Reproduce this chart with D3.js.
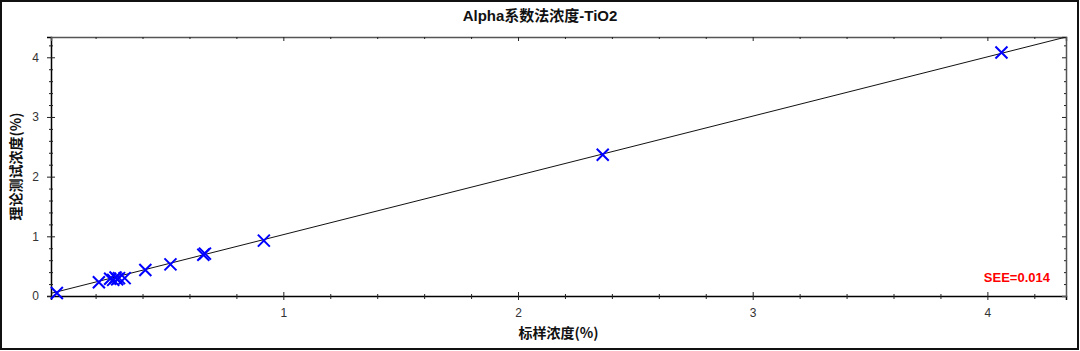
<!DOCTYPE html>
<html>
<head>
<meta charset="utf-8">
<script src="https://cdn.jsdelivr.net/npm/d3@7"></script>
<style>
  body { margin: 0; background: #fff; }
  svg { display: block; }
</style>
</head>
<body>
<div id="chart"></div>
<script>
// data
const stdConc = [0.035, 0.214, 0.262, 0.275, 0.285, 0.292, 0.300, 0.324, 0.412, 0.519, 0.659, 0.666, 0.917, 2.361, 4.06];
const calcConc = [0.05, 0.23, 0.29, 0.27, 0.31, 0.28, 0.30, 0.30, 0.436, 0.53, 0.69, 0.71, 0.928, 2.366, 4.08];
const majorTicks = [1, 2, 3, 4];
const fitLine = { slope: 0.993, intercept: 0.035 };
const chartTitle = "Alpha系数法浓度-TiO2";
const xTitle = "标样浓度(%)";
const yTitle = "理论测试浓度(%)";
const seeText = "SEE=0.014";

const W = 1080, H = 351;
const margin = { top: 37, right: 14, bottom: 55, left: 51 };
const width = W - margin.left - margin.right;
const height = H - margin.top - margin.bottom;

const svg = d3.select("#chart")
  .append("svg")
  .attr("width", W)
  .attr("height", H);

// outer frame
svg.append("rect")
  .attr("x", 1).attr("y", 1)
  .attr("width", W - 3).attr("height", H - 3)
  .attr("fill", "none")
  .attr("stroke", "#111")
  .attr("stroke-width", 2);

const g = svg.append("g")
  .attr("transform", "translate(" + margin.left + "," + margin.top + ")");

const x = d3.scaleLinear().domain([0.01, 4.335]).range([0, width]);
const y = d3.scaleLinear().domain([0, 4.34]).range([height, 0]);

const minorX = d3.range(0.2, 4.34, 0.2).filter(v => Math.abs(v - Math.round(v)) > 0.01);
const minorY = d3.range(0.2, 4.34, 0.2).filter(v => Math.abs(v - Math.round(v)) > 0.01);

// bottom axis
const xAxis = g.append("g")
  .attr("transform", "translate(0," + height + ")")
  .call(d3.axisBottom(x).tickValues(majorTicks).tickSize(4).tickPadding(8).tickFormat(d3.format("d")));
xAxis.selectAll(".tick line").attr("y1", -4);
g.append("g")
  .attr("transform", "translate(0," + height + ")")
  .call(d3.axisBottom(x).tickValues(minorX).tickSize(3).tickFormat(""))
  .call(a => a.selectAll(".tick line").attr("y1", -2))
  .call(a => a.select(".domain").remove());

// left axis
const yAxis = g.append("g")
  .call(d3.axisLeft(y).tickValues([0].concat(majorTicks)).tickSize(4).tickPadding(8).tickFormat(d3.format("d")));
yAxis.selectAll(".tick line").attr("x1", 4);
g.append("g")
  .call(d3.axisLeft(y).tickValues(minorY).tickSize(2).tickFormat(""))
  .call(a => a.selectAll(".tick line").attr("x1", 2))
  .call(a => a.select(".domain").remove());

// top and right mirror axes
g.append("g")
  .call(d3.axisBottom(x).tickValues(majorTicks).tickSize(4).tickFormat(""))
  .call(a => a.select(".domain").attr("stroke", "#555"));
g.append("g")
  .call(d3.axisBottom(x).tickValues(minorX).tickSize(2).tickFormat(""))
  .call(a => a.select(".domain").remove());
g.append("g")
  .attr("transform", "translate(" + width + ",0)")
  .call(d3.axisLeft(y).tickValues(majorTicks).tickSize(4).tickFormat(""))
  .call(a => a.select(".domain").attr("stroke", "#555"));
g.append("g")
  .attr("transform", "translate(" + width + ",0)")
  .call(d3.axisLeft(y).tickValues(minorY).tickSize(2).tickFormat(""))
  .call(a => a.select(".domain").remove());

g.selectAll(".domain").attr("stroke-width", 1.5);
g.selectAll(".tick line").attr("stroke", "#222");
g.selectAll(".tick text")
  .attr("fill", "#333")
  .style("font-family", "Arial, 'Liberation Sans', sans-serif")
  .style("font-size", "12px");

// regression line
g.append("clipPath").attr("id", "clip")
  .append("rect").attr("width", width).attr("height", height);
const xd = x.domain();
g.append("line")
  .attr("clip-path", "url(#clip)")
  .attr("x1", x(xd[0]))
  .attr("y1", y(fitLine.slope * xd[0] + fitLine.intercept))
  .attr("x2", x(xd[1]))
  .attr("y2", y(fitLine.slope * xd[1] + fitLine.intercept))
  .attr("stroke", "#111")
  .attr("stroke-width", 1);

// X markers
const pts = stdConc.map((v, i) => ({ x: v, y: calcConc[i] }));
const s = 6;
g.append("g")
  .selectAll("path")
  .data(pts)
  .enter()
  .append("path")
  .attr("d", d => {
    const px = x(d.x), py = y(d.y);
    return "M" + (px - s) + "," + (py - s) + "L" + (px + s) + "," + (py + s) +
           "M" + (px - s) + "," + (py + s) + "L" + (px + s) + "," + (py - s);
  })
  .attr("stroke", "#0000ff")
  .attr("stroke-width", 2)
  .attr("fill", "none");

// titles
svg.append("text")
  .attr("x", W / 2)
  .attr("y", 21)
  .attr("text-anchor", "middle")
  .style("font-family", "Arial, 'Noto Sans CJK SC', sans-serif")
  .style("font-size", "15px")
  .style("font-weight", "bold")
  .attr("fill", "#111")
  .text(chartTitle);

svg.append("text")
  .attr("x", margin.left + width / 2)
  .attr("y", 338)
  .attr("text-anchor", "middle")
  .style("font-family", "'Noto Sans CJK SC', sans-serif")
  .style("font-size", "14px")
  .style("font-weight", "bold")
  .attr("fill", "#111")
  .text(xTitle);

svg.append("text")
  .attr("transform", "translate(21," + (margin.top + height / 2) + ") rotate(-90)")
  .attr("text-anchor", "middle")
  .style("font-family", "'Noto Sans CJK SC', sans-serif")
  .style("font-size", "14px")
  .style("font-weight", "bold")
  .attr("fill", "#111")
  .text(yTitle);

svg.append("text")
  .attr("x", 1050)
  .attr("y", 282)
  .attr("text-anchor", "end")
  .style("font-family", "Arial, 'Liberation Sans', sans-serif")
  .style("font-size", "13px")
  .style("font-weight", "bold")
  .attr("fill", "#ff0000")
  .text(seeText);
</script>
</body>
</html>
